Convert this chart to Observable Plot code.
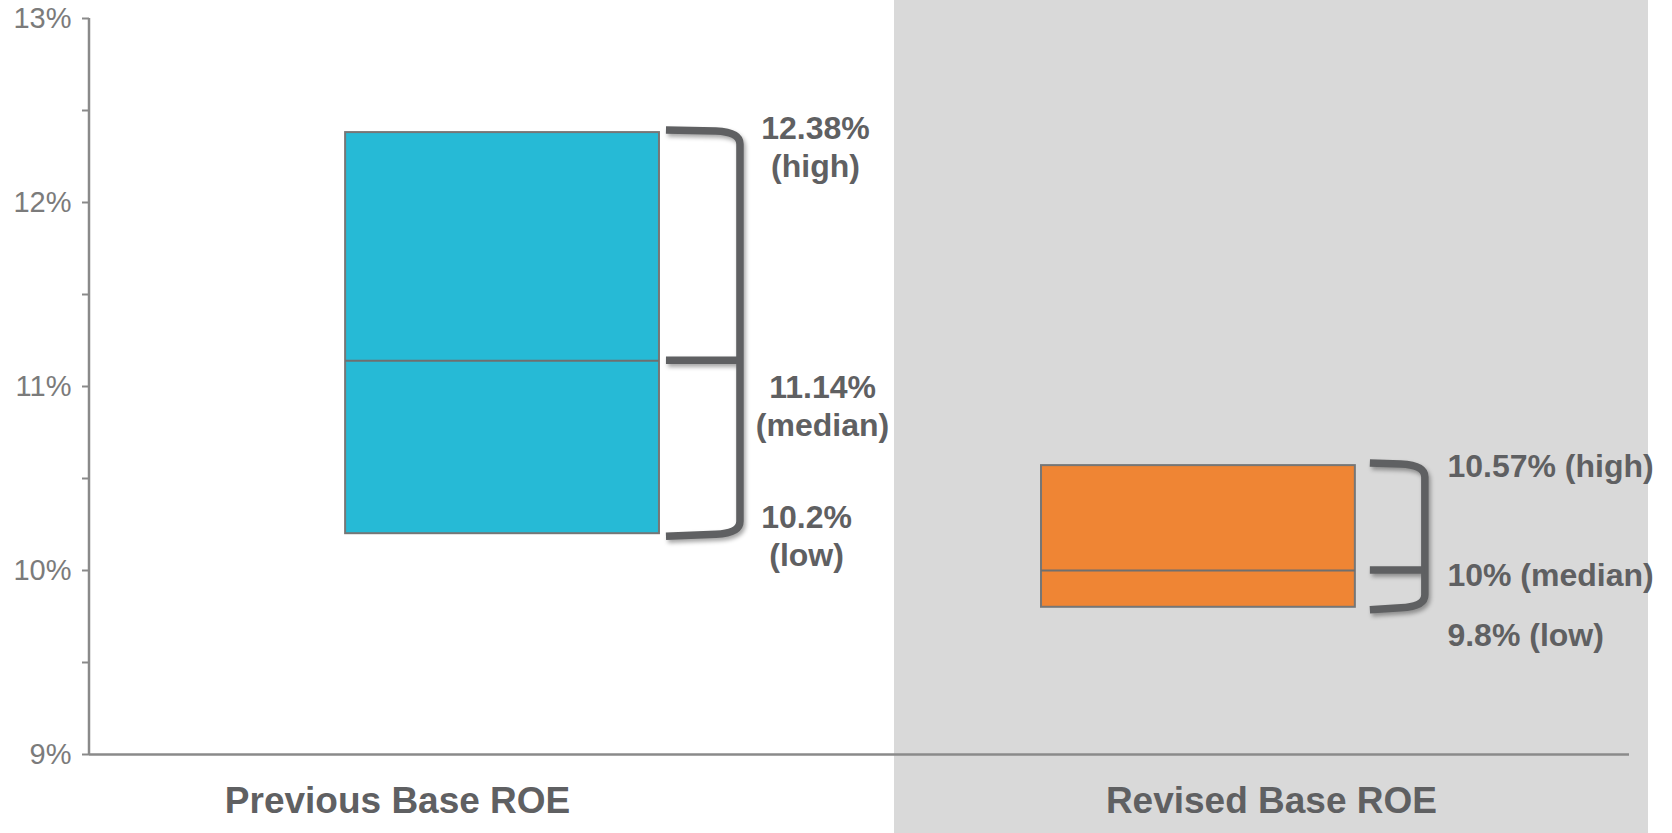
<!DOCTYPE html>
<html>
<head>
<meta charset="utf-8">
<script src="https://cdn.jsdelivr.net/npm/d3@7"></script>
<script src="https://cdn.jsdelivr.net/npm/@observablehq/plot@0.6"></script>
<style>
  html, body { margin: 0; padding: 0; background: #ffffff; }
  #chart { width: 1672px; height: 833px; }
</style>
</head>
<body>
<div id="chart"></div>
<script>
// ---- data ----
const categories = ["Previous Base ROE", "Revised Base ROE"];
const lowValues = [10.2, 9.8];
const medianValues = [11.14, 10.0];
const highValues = [12.38, 10.57];
const boxColors = ["#26bad6", "#ef8534"];
const highLabels = ["12.38%\n(high)", "10.57% (high)"];
const medianLabels = ["11.14%\n(median)", "10% (median)"];
const lowLabels = ["10.2%\n(low)", "9.8% (low)"];
const yTicks = [9, 9.5, 10, 10.5, 11, 11.5, 12, 12.5, 13];
const yTickLabels = ["9%", "", "10%", "", "11%", "", "12%", "", "13%"];

const rows = categories.map((c, i) => ({
  category: c, low: lowValues[i], median: medianValues[i], high: highValues[i],
  color: boxColors[i], highLabel: highLabels[i], medianLabel: medianLabels[i], lowLabel: lowLabels[i]
}));

// ---- layout / style ----
const textColor = "#5f6062";
const bracketColor = "#5f6062";
const axisColor = "#8a8a8a";
const labelLayout = [
  {anchor: "middle", items: [["high", "highLabel", 313, 13], ["median", "medianLabel", 320, 44], ["low", "lowLabel", 304, 1]]},
  {anchor: "start", items: [["high", "highLabel", 249, -1], ["median", "medianLabel", 249, 3], ["low", "lowLabel", 249, 27]]}
];
const bracketLayout = [{gap: 7, reach: 81}, {gap: 15, reach: 70}];
const categoryDx = [-105, 73];

function bandOf(sx) {
  return typeof sx.bandwidth === "function" ? sx.bandwidth() : sx.bandwidth;
}

// gray background panel behind the second category
function panel(index, scales, values, dimensions) {
  const g = d3.create("svg:g");
  g.append("rect")
    .attr("x", 894).attr("y", 0)
    .attr("width", 1648 - 894).attr("height", dimensions.height)
    .attr("fill", "#d9d9d9");
  return g.node();
}

// y axis line
function yAxisLine(index, scales, values, dimensions) {
  const g = d3.create("svg:g");
  const [y0, y1] = [scales.y(9), scales.y(13)];
  g.append("line")
    .attr("x1", dimensions.marginLeft).attr("x2", dimensions.marginLeft)
    .attr("y1", y0 + 1).attr("y2", y1)
    .attr("stroke", axisColor).attr("stroke-width", 2.5);
  return g.node();
}

// brackets
function brackets(index, scales, values, dimensions) {
  const sx = scales.x, sy = scales.y;
  const bw = bandOf(sx);
  const g = d3.create("svg:g")
    .attr("fill", "none")
    .attr("stroke", bracketColor)
    .attr("stroke-width", 7.5)
    .style("filter", "drop-shadow(2px 3px 2px rgba(0,0,0,0.35))");
  rows.forEach((r, i) => {
    const xr = sx(r.category) + bw;
    const {gap, reach} = bracketLayout[i];
    const x0 = xr + gap, xv = xr + reach;
    const yH = sy(r.high), yM = sy(r.median), yL = sy(r.low);
    const rr = 12;
    g.append("path").attr("d",
      `M${x0},${yH - 2} L${xv - rr - 12},${yH - 1} Q${xv},${yH} ${xv},${yH + rr} ` +
      `L${xv},${yL - rr} Q${xv},${yL} ${xv - rr - 12},${yL + 1} L${x0},${yL + 3}`);
    g.append("path").attr("d", `M${x0},${yM} L${xv},${yM}`);
  });
  return g.node();
}

const labelMarks = [];
labelLayout.forEach((grp, i) => {
  grp.items.forEach(([yKey, textKey, dx, dy]) => {
    labelMarks.push(Plot.text([rows[i]], {
      x: "category", y: yKey, text: textKey,
      dx, dy, textAnchor: grp.anchor, lineAnchor: "middle", lineHeight: 1.19,
      fontSize: 32, fontWeight: "bold", fill: textColor
    }));
  });
});

const categoryMarks = categories.map((c, i) => Plot.text([c], {
  x: d => d, text: d => d, frameAnchor: "bottom", dy: 47, dx: categoryDx[i],
  lineAnchor: "middle", fontSize: 37, fontWeight: "bold", fill: textColor
}));

const chart = Plot.plot({
  width: 1672,
  height: 833,
  marginLeft: 89,
  marginRight: 43,
  marginTop: 18,
  marginBottom: 79,
  style: {fontFamily: "'Liberation Sans', Arial, sans-serif", background: "transparent"},
  x: {type: "band", domain: categories, paddingInner: 0.549, paddingOuter: 0.381, align: 0.483, round: false, axis: null},
  y: {domain: [9, 13], axis: null},
  marks: [
    panel,
    Plot.barY(rows, {x: "category", y1: "low", y2: "high", fill: "color", stroke: "#767676", strokeWidth: 2}),
    Plot.tickY(rows, {x: "category", y: "median", stroke: "#6f6f6f", strokeWidth: 2}),
    Plot.axisY({ticks: yTicks, tickFormat: d => yTickLabels[yTicks.indexOf(d)], tickSize: 7, tickPadding: 11,
      fontSize: 29, fill: "#7b7b7b", stroke: axisColor, strokeWidth: 2, label: null}),
    yAxisLine,
    Plot.ruleY([9], {stroke: axisColor, strokeWidth: 2.5}),
    brackets,
    ...labelMarks,
    ...categoryMarks
  ]
});
document.getElementById("chart").appendChild(chart);
</script>
</body>
</html>
